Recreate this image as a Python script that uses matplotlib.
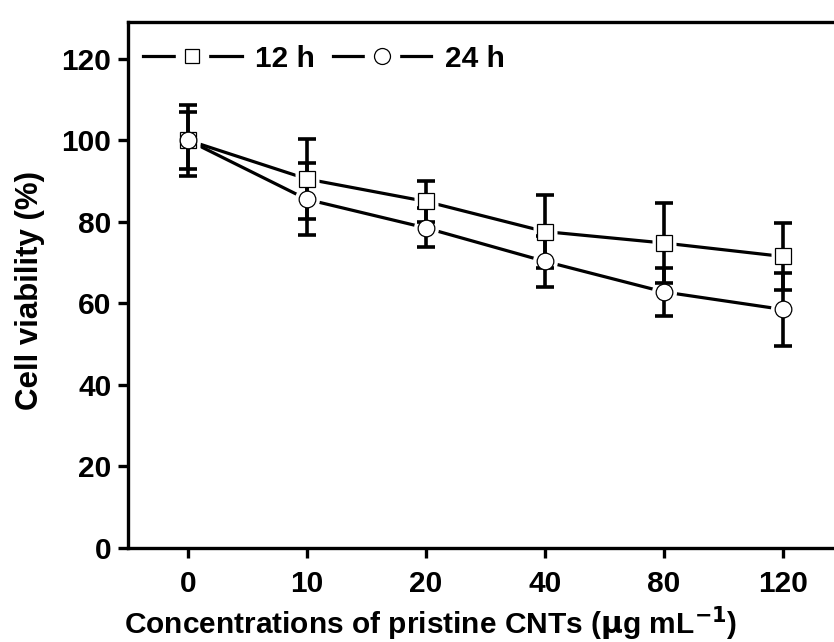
import matplotlib
matplotlib.use('Agg')
import matplotlib.pyplot as plt
from matplotlib.lines import Line2D
from matplotlib.legend_handler import HandlerTuple
import numpy as np

plt.rcParams['font.family'] = ['Liberation Sans', 'DejaVu Sans']
plt.rcParams['font.weight'] = 'bold'
plt.rcParams['mathtext.default'] = 'bf'

# concentrations (categorical x axis)
conc = ['0', '10', '20', '40', '80', '120']
via_12h = [100, 90.5, 85.0, 77.6, 74.8, 71.5]
err_12h = [8.7, 9.7, 5.1, 9.0, 9.8, 8.2]
via_24h = [100, 85.5, 78.5, 70.3, 62.8, 58.5]
err_24h = [7.0, 8.8, 4.8, 6.2, 5.9, 9.0]

x = np.arange(len(conc))

fig = plt.figure(figsize=(8.34, 6.42), dpi=100)
ax = fig.add_axes([128/834., 1-548/642., 706/834., 526/642.])

for y, e, mk, ms in [(via_12h, err_12h, 's', 11), (via_24h, err_24h, 'o', 12)]:
	ax.plot(x, y, color='k', lw=2.3, zorder=1)
	# white patches so the line stops short of the marker (Origin style)
	ax.plot(x, y, ls='none', marker=mk, ms=ms+6, mfc='white', mec='none', zorder=2)
	ax.errorbar(x, y, yerr=e, fmt='none', ecolor='k', elinewidth=2.6,
				capsize=6.5, capthick=2.6, zorder=3)
	ax.plot(x, y, ls='none', marker=mk, ms=ms, mfc='white', mec='k', mew=0.9, zorder=4)

ax.set_xlim(-0.504, 5.43)
ax.set_ylim(0, 129)
ax.set_xticks(x)
ax.set_xticklabels(conc)
ax.set_yticks([0, 20, 40, 60, 80, 100, 120])
ax.tick_params(direction='out', length=7, width=2.4, labelsize=21.5)
ax.tick_params(axis='x', pad=9)
ax.tick_params(axis='y', pad=5)
for s in ['left', 'bottom', 'top']:
	ax.spines[s].set_linewidth(2.4)
ax.spines['right'].set_visible(False)

ax.set_xlabel('Concentrations of pristine CNTs ($\\mu$g mL$^{\\mathbf{-1}}$)', fontsize=21.5, fontweight='bold')
ax.xaxis.label.set_va('baseline')
ax.xaxis.set_label_coords(0.429, -0.165)
ax.set_ylabel('Cell viability (%)', fontsize=22.5, fontweight='bold')
ax.yaxis.set_label_coords(-0.118, 0.49)

def leg_handle(mk, ms):
	back = Line2D([], [], color='k', lw=2.3, marker=mk, ms=ms+13, mfc='white', mec='white')
	front = Line2D([], [], ls='none', marker=mk, ms=ms, mfc='white', mec='k', mew=0.9)
	return (back, front)

ax.legend([leg_handle('s', 10.5), leg_handle('o', 11.5)], ['12 h', '24 h'], ncol=2,
		  loc='center left', frameon=False,
		  handler_map={tuple: HandlerTuple(ndivide=1)},
		  bbox_to_anchor=(-0.378, 120), bbox_transform=ax.transData,
		  borderpad=0, borderaxespad=0, handlelength=3.3, handletextpad=0.45,
		  columnspacing=0.6, prop={'size': 21.5, 'weight': 'bold'})

fig.savefig('out.png', dpi=100)
